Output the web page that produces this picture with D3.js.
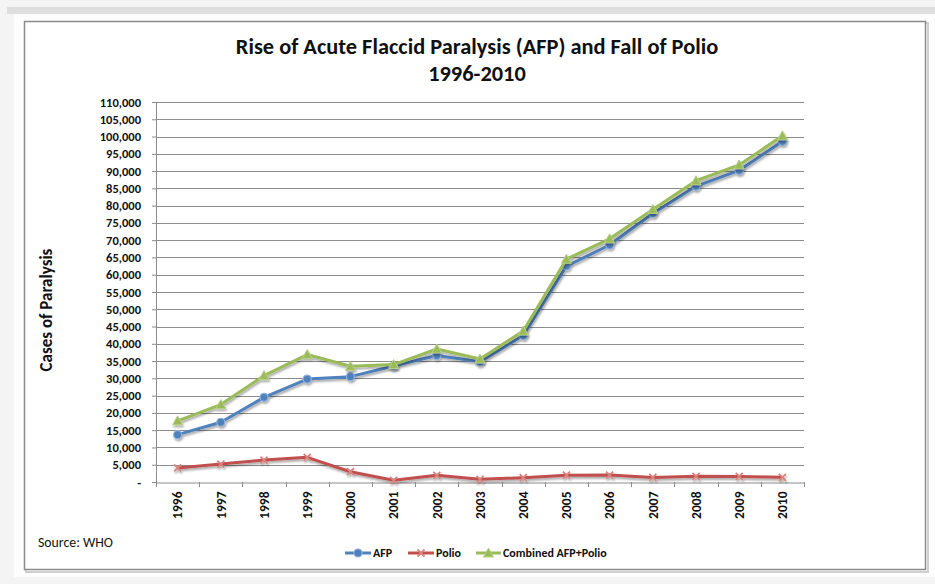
<!DOCTYPE html>
<html><head><meta charset="utf-8">
<script src="https://cdn.jsdelivr.net/npm/d3@7/dist/d3.min.js"></script>
<style>
html,body{margin:0;padding:0;background:#fff;}
svg{display:block;}
text{font-family:Carlito,"Liberation Sans Narrow","Liberation Sans",Arial,sans-serif;}
</style></head>
<body>
<svg id="c" width="935" height="584"></svg>
<script>
const years = ["1996","1997","1998","1999","2000","2001","2002","2003","2004","2005","2006","2007","2008","2009","2010"];
const afp = [13700,17300,24500,29800,30500,33600,36600,34800,42400,62500,68600,77700,85600,90200,98600];
const polio = [4074,5186,6349,7141,2971,483,1922,784,1255,1979,1997,1315,1651,1604,1352];
const combined = [17700,22400,30800,36900,33500,34000,38500,35600,43700,64500,70400,78900,87200,91800,100200];
const yTicks = [0,5000,10000,15000,20000,25000,30000,35000,40000,45000,50000,55000,60000,65000,70000,75000,80000,85000,90000,95000,100000,105000,110000];
const seriesNames = ["AFP","Polio","Combined AFP+Polio"];
const colors = ["#4f81bd","#c0504d","#9bbb59"];
const FONT = 'Carlito,"Liberation Sans Narrow","Liberation Sans",Arial,sans-serif';

const svg = d3.select("#c");
// page / frame
svg.append("rect").attr("x",0).attr("y",0).attr("width",935).attr("height",584).attr("fill","#f4f4f4");
svg.append("rect").attr("x",7).attr("y",7).attr("width",928).attr("height",7).attr("fill","#dedede");
svg.append("rect").attr("x",14).attr("y",14).attr("width",921).attr("height",563).attr("fill","#fdfdfd");
svg.append("rect").attr("x",26).attr("y",23).attr("width",902).attr("height",549).attr("fill","none").attr("stroke","#d0d0d0").attr("stroke-width",2);
svg.append("rect").attr("x",24.5).attr("y",21.5).attr("width",901).attr("height",548).attr("fill","#fff").attr("stroke","#8a8a8a").attr("stroke-width",1.5);

const defs = svg.append("defs");
const f = defs.append("filter").attr("id","sh").attr("x","-10%").attr("y","-10%").attr("width","120%").attr("height","130%");
f.append("feGaussianBlur").attr("in","SourceAlpha").attr("stdDeviation",1.2).attr("result","b");
f.append("feOffset").attr("in","b").attr("dx",1).attr("dy",1.5).attr("result","o");
f.append("feComponentTransfer").attr("in","o").attr("result","o2").append("feFuncA").attr("type","linear").attr("slope",0.35);
const m = f.append("feMerge"); m.append("feMergeNode").attr("in","o2"); m.append("feMergeNode").attr("in","SourceGraphic");

// title
svg.append("text").attr("x",477).attr("y",54).attr("text-anchor","middle").attr("font-size",22.4).attr("font-weight","bold").attr("fill","#111")
  .text("Rise of Acute Flaccid Paralysis (AFP) and Fall of Polio");
svg.append("text").attr("x",477).attr("y",81).attr("text-anchor","middle").attr("font-size",22.4).attr("font-weight","bold").attr("fill","#111")
  .text("1996-2010");

const x = d3.scaleBand().domain(years).range([156,804]);
const y = d3.scaleLinear().domain([0,110000]).range([482,102]);

// y axis + gridlines
const yAxis = d3.axisLeft(y).tickValues(yTicks).tickSize(4).tickFormat(d => d===0 ? "-" : d3.format(",")(d));
const ga = svg.append("g").attr("transform","translate(156,0)").call(yAxis);
ga.select(".domain").attr("stroke","#8c8c8c");
ga.selectAll(".tick line").attr("stroke","#8c8c8c");
ga.selectAll(".tick text").attr("font-size",12.5).attr("font-weight","bold").attr("fill","#111").attr("x",-15).attr("font-family",FONT);
svg.append("g").selectAll("line").data(yTicks.filter(d=>d>0)).join("line")
  .attr("x1",156).attr("x2",804).attr("y1",d=>Math.round(y(d))+0.5).attr("y2",d=>Math.round(y(d))+0.5)
  .attr("stroke","#8c8c8c").attr("stroke-width",1);

// x axis
const xAxis = d3.axisBottom(x).tickSize(0);
const gx = svg.append("g").attr("transform","translate(0,482.5)").call(xAxis);
gx.select(".domain").attr("stroke","#8c8c8c");
gx.selectAll(".tick text").attr("font-size",13.5).attr("font-weight","bold").attr("fill","#111")
  .attr("font-family",FONT)
  .attr("transform","rotate(-90)").attr("text-anchor","end").attr("x",-9).attr("y",0).attr("dy","0.35em");
const bounds = years.map(d=>x(d)).concat([x.range()[1]]);
svg.append("g").selectAll("line").data(bounds).join("line")
  .attr("x1",d=>Math.round(d)+0.5).attr("x2",d=>Math.round(d)+0.5).attr("y1",482).attr("y2",487)
  .attr("stroke","#8c8c8c");

// y title
svg.append("text").attr("transform","translate(52,310) rotate(-90)").attr("text-anchor","middle")
  .attr("font-size",17).attr("font-weight","bold").attr("fill","#111").text("Cases of Paralysis");

const cx = d => x(d) + x.bandwidth()/2;
const line = d3.line().x((d,i)=>cx(years[i])).y(d=>y(d));

function marker(g, type, color, px, py){
  if(type===0){
    g.append("circle").attr("cx",px).attr("cy",py).attr("r",4).attr("fill",color).attr("stroke","#8fb0db").attr("stroke-width",1.2);
  } else if(type===1){
    const s=3.5;
    g.append("path").attr("d",`M${px-s},${py-s}L${px+s},${py+s}M${px-s},${py+s}L${px+s},${py-s}`).attr("stroke","#d9837f").attr("stroke-width",1.8);
  } else {
    const s=5;
    g.append("path").attr("d",`M${px},${py-s}L${px+s},${py+s*0.8}L${px-s},${py+s*0.8}Z`).attr("fill",color).attr("stroke","#b8d08a").attr("stroke-width",1);
  }
}

const data = [afp, polio, combined];
data.forEach((vals,k)=>{
  const g = svg.append("g").attr("filter","url(#sh)");
  g.append("path").datum(vals).attr("d",line).attr("fill","none").attr("stroke",colors[k]).attr("stroke-width",3).attr("stroke-linejoin","round");
  vals.forEach((v,i)=>marker(g,k,colors[k],cx(years[i]),y(v)));
});

// source
svg.append("text").attr("x",38).attr("y",547).attr("font-size",13.8).attr("fill","#111").text("Source: WHO");

// legend
const leg = [{x0:345,x1:371,tx:373},{x0:408,x1:434,tx:436},{x0:476,x1:501,tx:503}];
leg.forEach((L,k)=>{
  const g = svg.append("g");
  g.append("line").attr("x1",L.x0).attr("x2",L.x1).attr("y1",553).attr("y2",553).attr("stroke",colors[k]).attr("stroke-width",3);
  marker(g,k,colors[k],(L.x0+L.x1)/2,553);
  svg.append("text").attr("x",L.tx).attr("y",557).attr("font-size",12).attr("font-weight","bold").attr("fill","#111").text(seriesNames[k]);
});
</script>
</body></html>
